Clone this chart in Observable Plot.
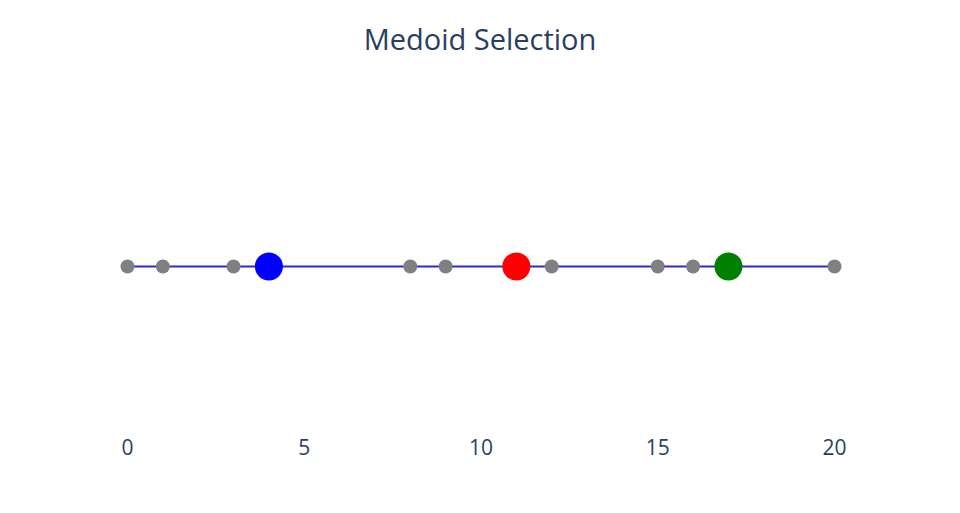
<!DOCTYPE html>
<html>
<head>
<meta charset="utf-8">
<script src="https://cdn.jsdelivr.net/npm/d3@7"></script>
<script src="https://cdn.jsdelivr.net/npm/@observablehq/plot@0.6"></script>
<style>
  body { margin: 0; background: #fff; }
  #title { height: 78px; line-height: 78px; text-align: center; font-family: "Open Sans", sans-serif; font-size: 29px; color: #2a3f5f; width: 960px; }
</style>
</head>
<body>
<div id="title">Medoid Selection</div>
<div id="chart"></div>
<script>
const points = [0, 1, 3, 4, 8, 9, 11, 12, 15, 16, 17, 20];
const medoids = [4, 11, 17];
const medoidColors = ["blue", "red", "green"];
const tickValues = [0, 5, 10, 15, 20];

const others = points.filter(p => !medoids.includes(p));
const medoidRows = medoids.map((m, i) => ({x: m, color: medoidColors[i]}));

const chart = Plot.plot({
  width: 960,
  height: 435,
  marginLeft: 127,
  marginRight: 126,
  marginTop: 21,
  marginBottom: 80,
  x: {domain: [0, 20]},
  y: {domain: [-1, 1], axis: null},
  style: {fontFamily: "'Open Sans', sans-serif", color: "#2a3f5f", background: "white"},
  marks: [
    Plot.axisX({ticks: tickValues, tickSize: 0, tickPadding: 7, fontSize: 21, label: null, fill: "#2a3f5f"}),
    Plot.line(points, {x: d => d, y: () => 0, stroke: "#2a2ad8", strokeWidth: 2.2}),
    Plot.dot(others, {x: d => d, y: () => 0, r: 7, fill: "#808080"}),
    Plot.dot(medoidRows, {x: "x", y: () => 0, r: 14, fill: "color"})
  ]
});
document.getElementById("chart").appendChild(chart);
</script>
</body>
</html>
